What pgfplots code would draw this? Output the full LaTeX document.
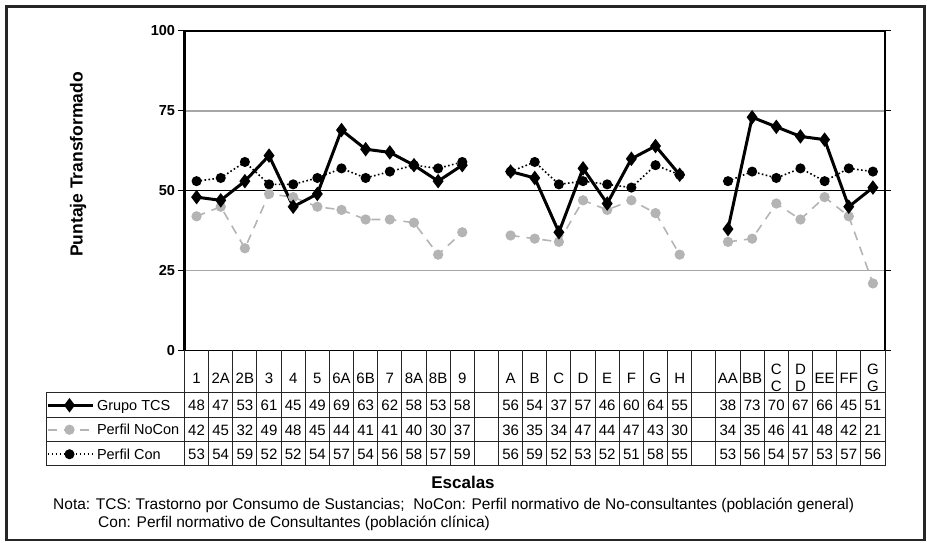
\documentclass[border=0pt]{standalone}
\usepackage{pgfplots}
\pgfplotsset{compat=1.18}
\usepackage{pgfplotstable}
\usepackage{fontspec}
\setmainfont{Liberation Sans}
\definecolor{ncgray}{RGB}{180,180,180}
\newcommand\tf{\fontsize{15}{17.5}\selectfont}

\pgfplotstableread{
x tcs nocon con
0 48 42 53
1 47 45 54
2 53 32 59
3 61 49 52
4 45 48 52
5 49 45 54
6 69 44 57
7 63 41 54
8 62 41 56
9 58 40 58
10 53 30 57
11 58 37 59
12 nan nan nan
13 56 36 56
14 54 35 59
15 37 34 52
16 57 47 53
17 46 44 52
18 60 47 51
19 64 43 58
20 55 30 55
21 nan nan nan
22 38 34 53
23 73 35 56
24 70 46 54
25 67 41 57
26 66 48 53
27 45 42 57
28 51 21 56
}\data

\begin{document}
\begin{tikzpicture}[x=1pt,y=1pt]
\useasboundingbox (0,0) rectangle (927,543);
\draw[line width=2.5pt, black!85] (6.5,3) rectangle (924.5,536.5);
\begin{axis}[
  at={(184.5pt,192.5pt)}, anchor=south west,
  scale only axis, width=700.5pt, height=319.5pt,
  xmin=-0.5, xmax=28.5, ymin=0, ymax=100,
  clip=false,
  xtick={0,...,28},
  xticklabels={1,2A,2B,3,4,5,6A,6B,7,8A,8B,9,{},A,B,C,D,E,F,G,H,{},AA,BB,{C\\C},{D\\D},EE,FF,{G\\G}},
  x tick style={draw=none},
  xticklabel style={anchor=center, align=center, yshift=-21.5pt, font=\tf, inner sep=0pt},
  ytick={0,25,75,100},
  extra y ticks={50},
  extra y tick style={grid=major, major grid style={black, line width=0.9pt}},
  ymajorgrids,
  major grid style={gray!70, line width=1.3pt},
  tick align=outside, major tick length=6pt,
  y tick style={black, line width=1pt},
  yticklabel style={font=\bfseries\fontsize{14.5}{16}\selectfont},
  /pgf/number format/assume math mode=true,
  axis line style={black, line width=1.3pt},
  legend style={at={(-0.1977,-0.133)}, anchor=north west, draw=none, fill=none,
    inner sep=0pt, outer sep=0pt, row sep=0pt, font=\fontsize{14.5}{17}\selectfont,
    nodes={inner sep=0pt, text height=17.5pt, text depth=7pt}},
  legend cell align=left,
  reverse legend,
  legend image code/.code={\draw[mark repeat=2,mark phase=2,#1] plot coordinates {(4pt,0pt)(26pt,0pt)(49pt,0pt)}; \path (52pt,0pt);},
]
\addplot[black, line width=1.6pt, dash pattern=on 1.6pt off 2.4pt, mark=*, mark size=4.2pt,
  mark options={solid, fill=black}, unbounded coords=jump]
  table[x=x,y=con]{\data};
\addlegendentry{Perfil Con}
\addplot[ncgray, line width=1.6pt, dash pattern=on 9pt off 7pt, mark=*, mark size=4.3pt,
  mark options={solid, fill=ncgray, draw=ncgray}, unbounded coords=jump]
  table[x=x,y=nocon]{\data};
\addlegendentry{Perfil NoCon}
\addplot[black, line width=3pt, mark=diamond*, mark size=4.8pt,
  mark options={solid, fill=black}, unbounded coords=jump]
  table[x=x,y=tcs]{\data};
\addlegendentry{Grupo TCS}

\addplot[forget plot, draw=none, mark=none, nodes near coords, point meta=explicit symbolic,
  skip coords between index={12}{13}, skip coords between index={21}{22},
  every node near coord/.style={anchor=center, font=\tf, inner sep=0pt}]
  table[x=x, y expr=-17.3, meta=tcs]{\data};
\addplot[forget plot, draw=none, mark=none, nodes near coords, point meta=explicit symbolic,
  skip coords between index={12}{13}, skip coords between index={21}{22},
  every node near coord/.style={anchor=center, font=\tf, inner sep=0pt}]
  table[x=x, y expr=-25.1, meta=nocon]{\data};
\addplot[forget plot, draw=none, mark=none, nodes near coords, point meta=explicit symbolic,
  skip coords between index={12}{13}, skip coords between index={21}{22},
  every node near coord/.style={anchor=center, font=\tf, inner sep=0pt}]
  table[x=x, y expr=-32.6, meta=con]{\data};
\end{axis}

% table grid
\foreach \k in {0,...,29}
  \draw[line width=1pt, black!85] ({184.5+\k*24.155},192.5) -- ({184.5+\k*24.155},77);
\foreach \yy in {150,125.5,101,77}
  \draw[line width=1pt, black!85] (46,\yy) -- (885,\yy);
\draw[line width=1pt, black!85] (46,150) -- (46,77);
\draw[line width=2.6pt, black] (184.5,192.5) -- (184.5,512);

\node[rotate=90, font=\bfseries\fontsize{17.5}{20}\selectfont] at (78,378.5) {Puntaje Transformado};
\node[font=\bfseries\fontsize{17}{20}\selectfont] at (463,61) {Escalas};
\node[anchor=base west, inner sep=0pt, font=\fontsize{15.5}{18}\selectfont] at (53,33)
  {Nota: TCS: Trastorno por Consumo de Sustancias;\ \ NoCon: Perfil normativo de No-consultantes (población general)};
\node[anchor=base west, inner sep=0pt, font=\fontsize{15.5}{18}\selectfont] at (98,15)
  {Con: Perfil normativo de Consultantes (población clínica)};
\end{tikzpicture}
\end{document}
